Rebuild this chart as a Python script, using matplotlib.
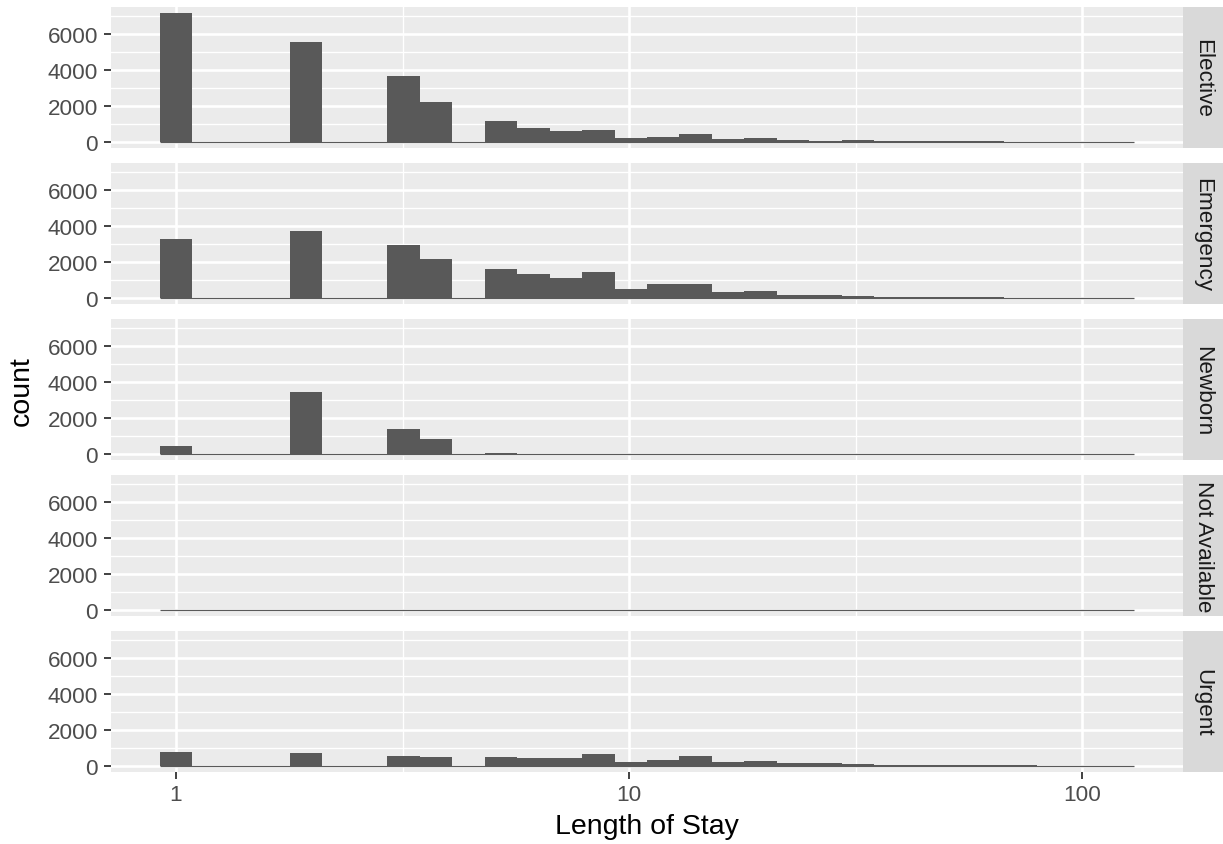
import numpy as np
import matplotlib
matplotlib.use("Agg")
import matplotlib.pyplot as plt

plt.rcParams['font.family'] = ['Liberation Sans', 'DejaVu Sans']

# ---- data (counts per log10 bin, 30 bins over Length of Stay 1..120) ----
facets = ["Elective", "Emergency", "Newborn", "Not Available", "Urgent"]
los_min = 1
los_max = 120
n_bins = 30

elective = [7170, 0, 0, 0, 5600, 0, 0, 3690, 2236, 0,
            1174, 783, 615, 671, 242, 280, 447, 168, 242, 112,
            75, 112, 40, 35, 30, 25, 20, 15, 5, 4]
emergency = [3271, 0, 0, 0, 3719, 0, 0, 2934, 2149, 0,
             1589, 1308, 1084, 1420, 523, 748, 748, 355, 411, 187,
             187, 131, 75, 70, 65, 25, 20, 15, 12, 10]
newborn = [466, 0, 0, 0, 3429, 0, 0, 1416, 857, 0,
           75, 20, 10, 10, 5, 5, 4, 3, 3, 2,
           2, 1, 1, 1, 1, 1, 0, 0, 0, 0]
not_available = [0] * 30
urgent = [782, 0, 0, 0, 727, 0, 0, 559, 503, 0,
          503, 447, 447, 671, 224, 335, 559, 224, 279, 168,
          168, 112, 56, 56, 30, 30, 30, 10, 10, 10]
series = [elective, emergency, newborn, not_available, urgent]

y_ticks = [0, 2000, 4000, 6000]
y_minor = [1000, 3000, 5000, 7000]
x_ticks = [1, 10, 100]
x_tick_labels = ["1", "10", "100"]

# ---- binning (ggplot2 default: centre on min, width = range/(bins-1)) ----
lmin, lmax = np.log10(los_min), np.log10(los_max)
w = (lmax - lmin) / (n_bins - 1)
log_edges = lmin - w / 2 + w * np.arange(n_bins + 1)
edges = 10 ** log_edges
span = log_edges[-1] - log_edges[0]
xlim = (10 ** (log_edges[0] - 0.05 * span), 10 ** (log_edges[-1] + 0.05 * span))

M = max(max(s) for s in series)
ylim = (-0.05 * M, 1.05 * M)

W, H = 1223, 845
fig = plt.figure(figsize=(W / 100, H / 100), dpi=100)

px_left, px_right = 111, 1183
strip_w = 40
panel_h = 141.3
gap = 14.7
top0 = 8

bar_color = "#595959"
axes = []
for i, (name, counts) in enumerate(zip(facets, series)):
    top = top0 + i * (panel_h + gap)
    rect = [px_left / W, 1 - (top + panel_h) / H, (px_right - px_left) / W, panel_h / H]
    ax = fig.add_axes(rect)
    ax.set_facecolor("#EBEBEB")
    ax.set_xscale("log")
    ax.set_xlim(*xlim)
    ax.set_ylim(*ylim)
    for s in ax.spines.values():
        s.set_visible(False)
    # grid
    for v in y_minor:
        ax.axhline(v, color="white", lw=0.95, zorder=0.5)
    for v in y_ticks:
        ax.axhline(v, color="white", lw=1.9, zorder=0.6)
    for v in [10 ** 0.5, 10 ** 1.5]:
        ax.axvline(v, color="white", lw=0.95, zorder=0.5)
    for v in x_ticks:
        ax.axvline(v, color="white", lw=1.9, zorder=0.6)
    ax.bar(edges[:-1], counts, width=np.diff(edges), align="edge",
           color=bar_color, linewidth=0, zorder=2)
    ax.hlines(0, edges[0], edges[-1], color=bar_color, lw=0.9, zorder=2)

    ax.set_yticks(y_ticks)
    ax.set_yticklabels([str(v) for v in y_ticks])
    ax.yaxis.set_minor_locator(matplotlib.ticker.NullLocator())
    ax.xaxis.set_minor_locator(matplotlib.ticker.NullLocator())
    ax.set_xticks(x_ticks)
    ax.tick_params(axis="y", length=5.2, width=1.3, color="#333333",
                   labelsize=16.2, labelcolor="#4D4D4D", pad=4)
    if i == len(facets) - 1:
        ax.set_xticklabels(x_tick_labels)
        ax.tick_params(axis="x", length=5.2, width=1.3, color="#333333",
                       labelsize=16.2, labelcolor="#4D4D4D", pad=3.5)
    else:
        ax.tick_params(axis="x", length=0, labelbottom=False)
    ax.set_axisbelow(True)

    # strip
    srect = [px_right / W, rect[1], strip_w / W, rect[3]]
    sax = fig.add_axes(srect)
    sax.set_facecolor("#D9D9D9")
    sax.set_xticks([])
    sax.set_yticks([])
    for s in sax.spines.values():
        s.set_visible(False)
    sax.text(0.5, 0.5, name, rotation=-90, ha="center", va="center",
             fontsize=16.2, color="#1A1A1A", transform=sax.transAxes)
    axes.append(ax)

fig.text((px_left + px_right) / 2 / W, 1 - 834 / H, "Length of Stay",
         ha="center", va="baseline", fontsize=20.5, color="black")
fig.text(22 / W, 1 - ((top0 + (top0 + 5 * panel_h + 4 * gap)) / 2) / H, "count",
         rotation=90, ha="center", va="center", fontsize=20.5, color="black")

fig.savefig("out.png", dpi=100)
